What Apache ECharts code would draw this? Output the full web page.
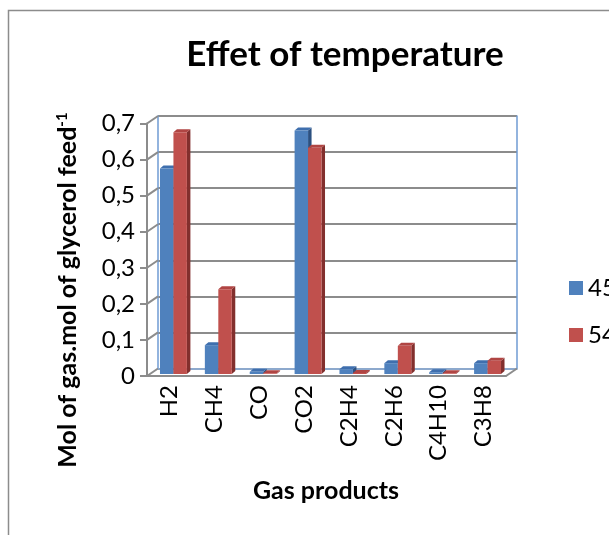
<!DOCTYPE html>
<html>
<head>
<meta charset="utf-8">
<script src="https://cdn.jsdelivr.net/npm/echarts@6/dist/echarts.min.js"></script>
<style>
  html, body { margin: 0; padding: 0; background: #fff; }
  #chart { width: 609px; height: 535px; }
</style>
</head>
<body>
<div id="chart"></div>
<script>
// gas products on the x axis
const categories = ['H2', 'CH4', 'CO', 'CO2', 'C2H4', 'C2H6', 'C4H10', 'C3H8'];
// mol of gas per mol of glycerol feed
const temp450 = [0.57, 0.08, 0.006, 0.675, 0.013, 0.03, 0.005, 0.03];
const temp540 = [0.67, 0.235, 0.002, 0.627, 0.003, 0.078, 0.002, 0.037];
const seriesNames = ['450 °C', '540 °C'];
const yTickLabels = ['0', '0,1', '0,2', '0,3', '0,4', '0,5', '0,6', '0,7'];

const FONT = 'Lato';
const chart = echarts.init(document.getElementById('chart'));

// 3d look: back wall grid + front grid shifted down/left
const back = { left: 158, top: 116, width: 359, height: 252.5 };
const front = { left: 147, top: 123.5, width: 359, height: 252.5 };

function bar3d(idx, faceColor, sideColor, topColor) {
  return function (params, api) {
    const cat = api.value(0);
    const v = api.value(1);
    const base = api.coord([cat, 0]);
    const top = api.coord([cat, v]);
    const band = api.size([1, 0])[0];
    const w = band * 0.3;
    const fx = -7, fy = 5.5;   // front face offset from back wall
    const dx = 3.5, dy = 3;    // bar depth
    const xl = base[0] + fx + (idx === 0 ? -w : 0);
    const xr = xl + w;
    const yb = base[1] + fy;
    const yt = top[1] + fy;
    return {
      type: 'group',
      children: [
        { type: 'polygon', shape: { points: [[xr, yt], [xr + dx, yt - dy], [xr + dx, yb - dy], [xr, yb]] }, style: { fill: sideColor } },
        { type: 'polygon', shape: { points: [[xl, yt], [xl + dx, yt - dy], [xr + dx, yt - dy], [xr, yt]] }, style: { fill: topColor } },
        { type: 'rect', shape: { x: xl, y: yt, width: w, height: yb - yt }, style: { fill: faceColor } }
      ]
    };
  };
}

const option = {
  backgroundColor: '#fff',
  animation: false,
  title: {
    text: 'Effet of temperature',
    left: 340,
    top: 32,
    textAlign: 'center',
    textStyle: { fontFamily: FONT, fontWeight: 'bold', fontSize: 35, color: '#000' }
  },
  legend: {
    orient: 'vertical',
    left: 564,
    top: 271,
    width: 200,
    itemWidth: 14,
    itemHeight: 14,
    itemGap: 23,
    icon: 'rect',
    data: [
      { name: seriesNames[0], itemStyle: { color: '#4f81bd' } },
      { name: seriesNames[1], itemStyle: { color: '#c0504d' } }
    ],
    textStyle: { fontFamily: FONT, fontSize: 24, color: '#000', width: 100, overflow: 'none' }
  },
  grid: [
    Object.assign({}, back),
    Object.assign({}, front)
  ],
  xAxis: [
    {
      gridIndex: 0, type: 'category', data: categories,
      axisLine: { lineStyle: { color: '#8db3e2', width: 1.5 } },
      axisTick: { show: false }, axisLabel: { show: false }
    },
    {
      gridIndex: 1, type: 'category', data: categories,
      axisLine: { lineStyle: { color: '#8c8c8c', width: 2 } },
      axisTick: { show: false },
      axisLabel: { rotate: 90, margin: 9, fontFamily: FONT, fontSize: 24, color: '#000' }
    }
  ],
  yAxis: [
    {
      gridIndex: 0, type: 'value', min: 0, max: 0.7, interval: 0.1,
      axisLine: { show: true, lineStyle: { color: '#6f9bd3', width: 1.5 } },
      axisTick: { show: false }, axisLabel: { show: false },
      splitLine: { lineStyle: { color: '#8c8c8c', width: 2 } }
    },
    {
      gridIndex: 0, type: 'value', min: 0, max: 0.7, interval: 0.1, position: 'right',
      axisLine: { show: true, lineStyle: { color: '#6f9bd3', width: 1.5 } },
      axisTick: { show: false }, axisLabel: { show: false }, splitLine: { show: false }
    },
    {
      gridIndex: 1, type: 'value', min: 0, max: 0.7, interval: 0.1,
      axisLine: { show: true, lineStyle: { color: '#8c8c8c', width: 2 } },
      axisTick: { show: true, inside: false, length: 7, lineStyle: { color: '#8c8c8c', width: 2 } },
      axisLabel: {
        margin: 12, fontFamily: FONT, fontSize: 24, color: '#000',
        formatter: (v, i) => yTickLabels[i]
      },
      splitLine: { show: false }
    }
  ],
  series: [
    {
      // diagonals joining front ticks to back wall grid lines
      type: 'custom', xAxisIndex: 1, yAxisIndex: 2, silent: true,
      data: yTickLabels.map((t, i) => [0, i / 10]),
      renderItem: function (params, api) {
        const y = api.coord([0, api.value(1)])[1];
        const x = params.coordSys.x;
        return {
          type: 'line',
          shape: { x1: x, y1: y, x2: x + 11, y2: y - 7.5 },
          style: { stroke: '#8c8c8c', lineWidth: 2 }
        };
      }
    },
    {
      // floor right edge
      type: 'custom', xAxisIndex: 1, yAxisIndex: 2, silent: true,
      data: [[categories.length - 1, 0]],
      renderItem: function (params, api) {
        const cs = params.coordSys;
        const y = cs.y + cs.height;
        const x = cs.x + cs.width;
        return {
          type: 'line',
          shape: { x1: x, y1: y, x2: x + 11, y2: y - 7.5 },
          style: { stroke: '#8c8c8c', lineWidth: 2 }
        };
      }
    },
    {
      name: seriesNames[0], type: 'custom', xAxisIndex: 0, yAxisIndex: 0,
      itemStyle: { color: '#4f81bd' },
      data: temp450.map((v, i) => [i, v]),
      renderItem: bar3d(0, '#4f81bd', '#2c5080', '#3f6fae')
    },
    {
      name: seriesNames[1], type: 'custom', xAxisIndex: 0, yAxisIndex: 0,
      itemStyle: { color: '#c0504d' },
      data: temp540.map((v, i) => [i, v]),
      renderItem: bar3d(1, '#c0504d', '#822f2d', '#b04543')
    }
  ],
  graphic: [
    {
      type: 'rect', silent: true,
      shape: { x: 8.5, y: 10.5, width: 700, height: 600 },
      style: { fill: null, stroke: '#8c8c8c', lineWidth: 1.5 }
    },
    {
      type: 'text', x: 68, y: 290, rotation: Math.PI / 2,
      style: {
        text: '{a|Mol of gas.mol of glycerol feed}{b|-1}',
        align: 'center', verticalAlign: 'middle',
        rich: {
          a: { fontFamily: FONT, fontWeight: 'bold', fontSize: 25, color: '#000' },
          b: { fontFamily: FONT, fontWeight: 'bold', fontSize: 15, color: '#000', verticalAlign: 'top', padding: [0, 0, 12, 0] }
        }
      }
    },
    {
      type: 'text', x: 326, y: 491,
      style: {
        text: 'Gas products', align: 'center', verticalAlign: 'middle',
        fontFamily: FONT, fontWeight: 'bold', fontSize: 25, fill: '#000'
      }
    }
  ]
};

chart.setOption(option);
</script>
</body>
</html>
